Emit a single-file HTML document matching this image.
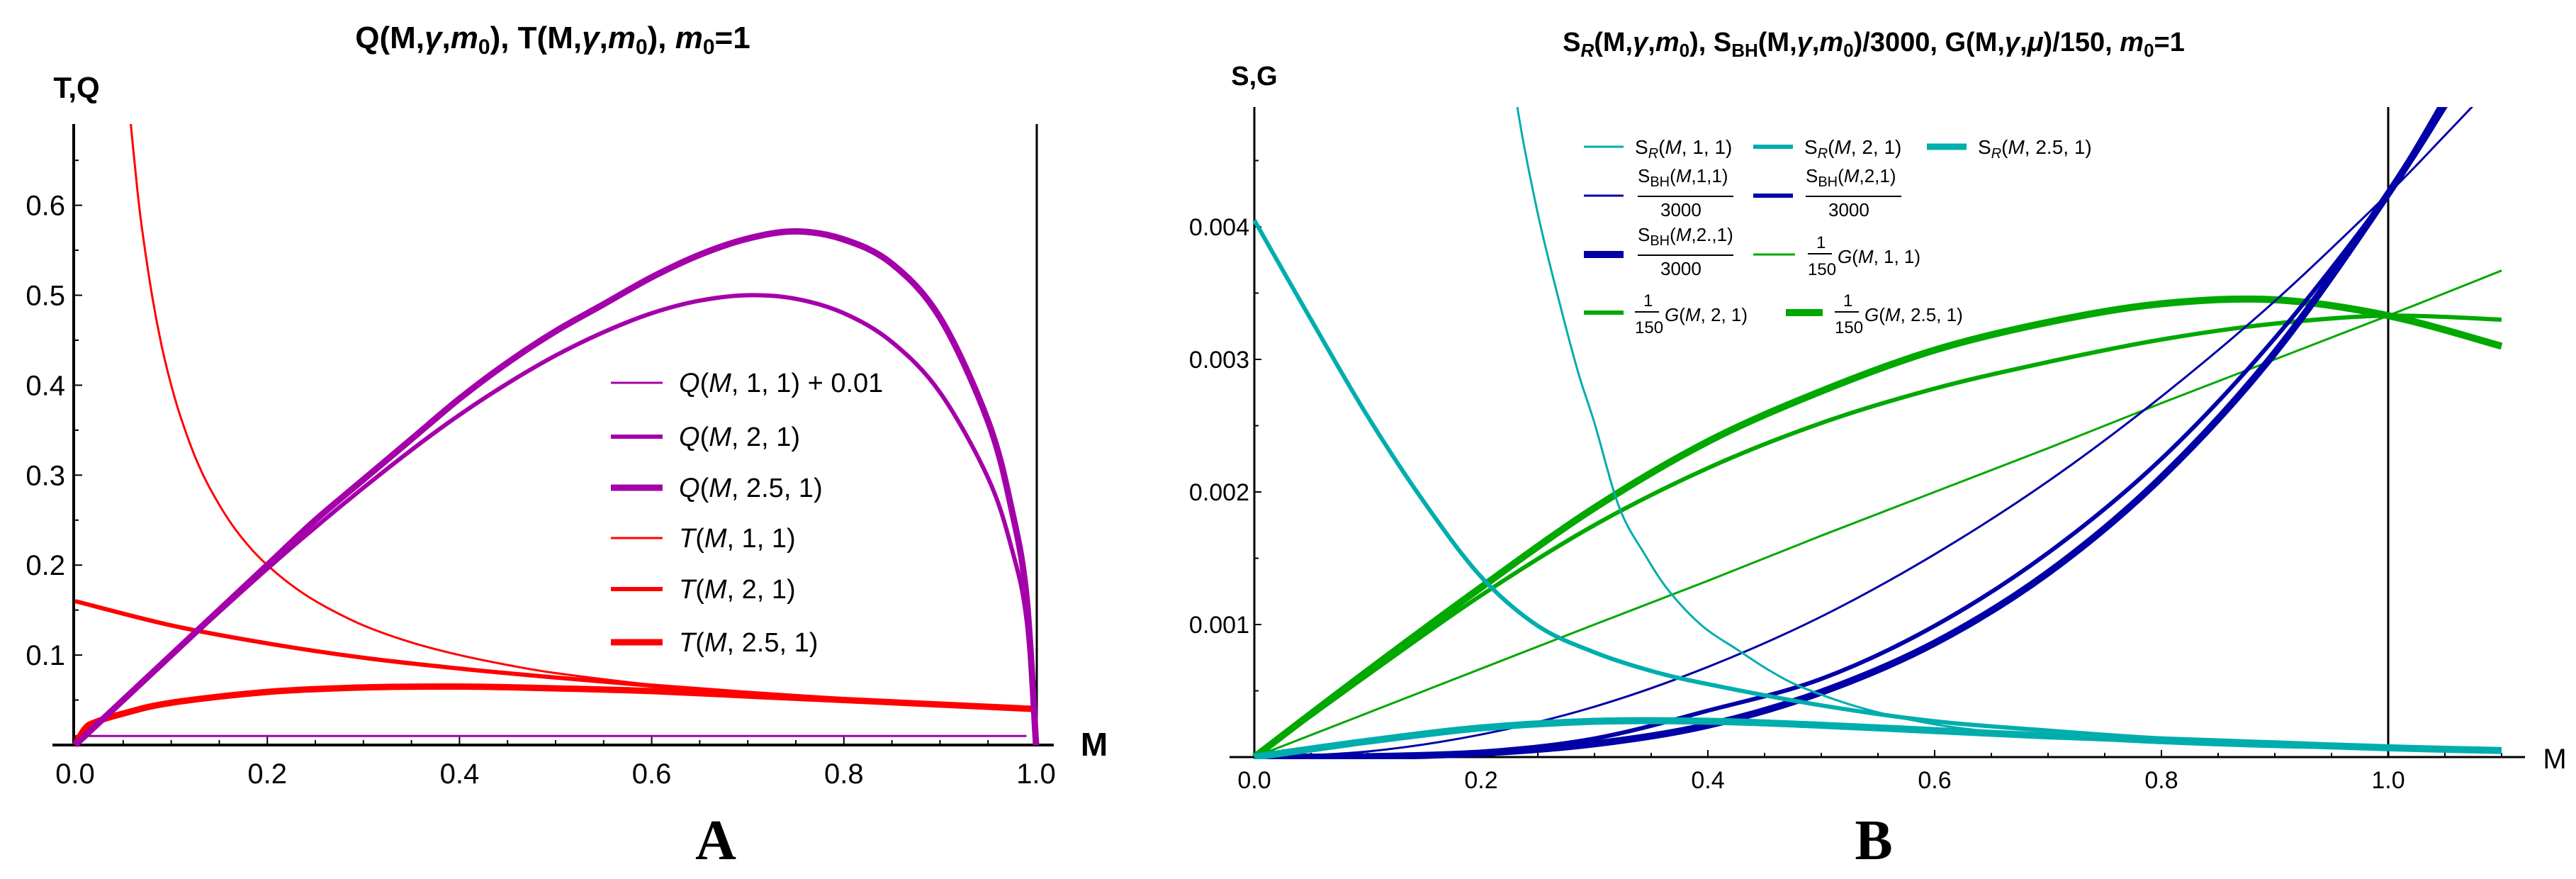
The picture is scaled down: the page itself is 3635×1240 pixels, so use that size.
<!DOCTYPE html>
<html><head><meta charset="utf-8"><style>
html,body{margin:0;padding:0;background:#fff;}
svg{display:block;}
</style></head><body>
<svg id="fig" width="3635" height="1240" viewBox="0 0 3635 1240" xmlns="http://www.w3.org/2000/svg" font-family="Liberation Sans Narrow, Liberation Sans, sans-serif">
<defs>
<clipPath id="clipA"><rect x="100" y="175" width="1370" height="880"/></clipPath>
<clipPath id="clipB"><rect x="1765" y="151" width="1770" height="920"/></clipPath>
</defs>
<g id="panelA">
<text x="780" y="68" font-size="44" font-weight="bold" text-anchor="middle" style="font-family:'Liberation Sans',sans-serif">Q(M,<tspan font-style="italic">γ</tspan>,<tspan font-style="italic">m</tspan><tspan font-size="30" dy="8">0</tspan><tspan dy="-8">), T(M,</tspan><tspan font-style="italic">γ</tspan>,<tspan font-style="italic">m</tspan><tspan font-size="30" dy="8">0</tspan><tspan dy="-8">), </tspan><tspan font-style="italic">m</tspan><tspan font-size="30" dy="8">0</tspan><tspan dy="-8">=1</tspan></text>
<text x="108" y="138" font-size="42" font-weight="bold" text-anchor="middle" style="font-family:'Liberation Sans',sans-serif">T,Q</text>
<text x="1544" y="1066" font-size="46" font-weight="bold" text-anchor="middle" style="font-family:'Liberation Sans',sans-serif">M</text>
<text x="1010" y="1212" font-size="80" font-weight="bold" text-anchor="middle" style="font-family:'Liberation Serif',serif">A</text>
</g>
<g id="panelB">
<text x="2644" y="72" font-size="38" font-weight="bold" text-anchor="middle" style="font-family:'Liberation Sans',sans-serif">S<tspan font-size="26" dy="8" font-style="italic">R</tspan><tspan dy="-8">(M,</tspan><tspan font-style="italic">γ</tspan>,<tspan font-style="italic">m</tspan><tspan font-size="26" dy="8">0</tspan><tspan dy="-8">), S</tspan><tspan font-size="26" dy="8">BH</tspan><tspan dy="-8">(M,</tspan><tspan font-style="italic">γ</tspan>,<tspan font-style="italic">m</tspan><tspan font-size="26" dy="8">0</tspan><tspan dy="-8">)/3000, G(M,</tspan><tspan font-style="italic">γ</tspan>,<tspan font-style="italic">μ</tspan>)/150,  <tspan font-style="italic">m</tspan><tspan font-size="26" dy="8">0</tspan><tspan dy="-8">=1</tspan></text>
<text x="1770" y="120" font-size="38" font-weight="bold" text-anchor="middle" style="font-family:'Liberation Sans',sans-serif">S,G</text>
<text x="3605" y="1084" font-size="40" text-anchor="middle">M</text>
<text x="2644" y="1212" font-size="80" font-weight="bold" text-anchor="middle" style="font-family:'Liberation Serif',serif">B</text>
</g>
</svg>
<script>
// ---------- Panel A data ----------
const aXTicks = [0, 0.2, 0.4, 0.6, 0.8, 1.0];
const aXTickLabels = ["0.0", "0.2", "0.4", "0.6", "0.8", "1.0"];
const aYTicks = [0.1, 0.2, 0.3, 0.4, 0.5, 0.6];
const aYTickLabels = ["0.1", "0.2", "0.3", "0.4", "0.5", "0.6"];
const mQ1 = [0, 0.99];
const q1Values = [0.01, 0.01];
const mQ2 = [0, 0.05, 0.1, 0.15, 0.2, 0.25, 0.3, 0.35, 0.4, 0.45, 0.5, 0.55, 0.6, 0.65, 0.7, 0.75, 0.8, 0.85, 0.9, 0.95, 0.975, 0.99, 1.0];
const q2Values = [0, 0.0499, 0.0995, 0.148, 0.196, 0.242, 0.286, 0.328, 0.367, 0.402, 0.433, 0.459, 0.48, 0.494, 0.5, 0.496, 0.48, 0.448, 0.392, 0.297, 0.217, 0.14, 0];
const q25Values = [0, 0.05, 0.1, 0.15, 0.2, 0.25, 0.295, 0.34, 0.385, 0.425, 0.46, 0.49, 0.52, 0.545, 0.563, 0.571, 0.562, 0.535, 0.475, 0.36, 0.26, 0.165, 0];
const mT1 = [0.05, 0.055, 0.06, 0.065, 0.07, 0.08, 0.09, 0.1, 0.11, 0.125, 0.14, 0.16, 0.18, 0.2, 0.23, 0.26, 0.3, 0.35, 0.4, 0.45, 0.5, 0.6, 0.7, 0.8, 0.9, 1.0];
const t1Values = [0.8, 0.727, 0.667, 0.615, 0.571, 0.5, 0.444, 0.4, 0.364, 0.32, 0.286, 0.25, 0.222, 0.2, 0.174, 0.154, 0.133, 0.114, 0.1, 0.089, 0.08, 0.067, 0.057, 0.05, 0.044, 0.04];
const mT2 = [0, 0.1, 0.2, 0.3, 0.4, 0.5, 0.6, 0.7, 0.8, 0.9, 1.0];
const t2Values = [0.16, 0.133, 0.113, 0.097, 0.085, 0.075, 0.066, 0.058, 0.051, 0.045, 0.04];
const mT25 = [0, 0.01, 0.02, 0.05, 0.1, 0.2, 0.3, 0.4, 0.5, 0.6, 0.7, 0.8, 0.9, 1.0];
const t25Values = [0, 0.018, 0.025, 0.035, 0.047, 0.059, 0.064, 0.065, 0.063, 0.06, 0.055, 0.05, 0.045, 0.04];

// ---------- Panel B data ----------
const bXTicks = [0, 0.2, 0.4, 0.6, 0.8, 1.0];
const bXTickLabels = ["0.0", "0.2", "0.4", "0.6", "0.8", "1.0"];
const bYTicks = [0.001, 0.002, 0.003, 0.004];
const bYTickLabels = ["0.001", "0.002", "0.003", "0.004"];
const mSR1 = [0.22, 0.232, 0.25, 0.27, 0.286, 0.3, 0.322, 0.345, 0.366, 0.395, 0.426, 0.455, 0.485, 0.54, 0.605, 0.68, 0.764, 0.88, 1.0, 1.1];
const sr1Values = [0.0057, 0.0049, 0.0041, 0.0034, 0.00289, 0.00252, 0.00188, 0.00152, 0.00125, 0.00099, 0.00081, 0.00065, 0.00052, 0.00036, 0.00024, 0.00017, 0.00012, 0.00008, 0.00006, 0.00005];
const mSR2 = [0, 0.05, 0.1, 0.15, 0.2, 0.25, 0.3, 0.35, 0.4, 0.5, 0.6, 0.7, 0.8, 0.9, 1.0, 1.1];
const sr2Values = [0.00405, 0.0033, 0.00257, 0.00192, 0.00136, 0.00099, 0.00079, 0.00065, 0.00055, 0.00039, 0.00027, 0.0002, 0.00014, 0.0001, 0.00007, 0.00005];
const mSR25 = [0, 0.1, 0.2, 0.3, 0.4, 0.5, 0.6, 0.7, 0.8, 0.9, 1.0, 1.1];
const sr25Values = [0, 0.00012, 0.00022, 0.00027, 0.00027, 0.00024, 0.0002, 0.00016, 0.00013, 0.0001, 0.00007, 0.00005];
const mBH = [0, 0.1, 0.2, 0.3, 0.4, 0.5, 0.6, 0.7, 0.8, 0.9, 1.0, 1.05, 1.1];
const bh1Values = [0, 0.0000425, 0.00017, 0.00038, 0.00068, 0.00106, 0.00153, 0.00208, 0.00272, 0.00344, 0.00425, 0.00469, 0.00514];
const bh2Values = [0, 0.000006, 0.00004, 0.00014, 0.00035, 0.00059, 0.00099, 0.00154, 0.00225, 0.00316, 0.00425, 0.0049, 0.0056];
const bh25Values = [0, 0.000003, 0.00003, 0.0001, 0.00024, 0.00049, 0.00086, 0.00139, 0.00211, 0.00305, 0.00425, 0.00495, 0.0057];
const mG = [0, 0.1, 0.2, 0.3, 0.4, 0.5, 0.6, 0.7, 0.8, 0.9, 1.0, 1.1];
const g1Values = [0, 0.000333, 0.000667, 0.001, 0.00133, 0.00167, 0.002, 0.00233, 0.00267, 0.003, 0.00333, 0.00367];
const g2Values = [0, 0.00062, 0.00122, 0.00175, 0.00218, 0.00252, 0.00278, 0.00298, 0.00315, 0.00327, 0.00333, 0.0033];
const g25Values = [0, 0.00065, 0.00128, 0.00188, 0.00238, 0.00276, 0.00307, 0.00328, 0.00342, 0.00345, 0.00333, 0.0031];

const NS = "http://www.w3.org/2000/svg";
const svg = document.getElementById("fig");
const gA = document.getElementById("panelA");
const gB = document.getElementById("panelB");

function xA(v){ return 106 + v * 1356; }
function yA(v){ return 1051 - v * 1269; }
function xB(v){ return 1770 + v * 1600; }
function yB(v){ return 1068 - v * 187000; }

function mk(tag, attrs, parent){
  const e = document.createElementNS(NS, tag);
  for (const k in attrs) e.setAttribute(k, attrs[k]);
  parent.appendChild(e);
  return e;
}
function smoothPath(xs, ys, fx, fy){
  const p = xs.map((x,i)=>[fx(x), fy(ys[i])]);
  let d = "M" + p[0][0].toFixed(1) + "," + p[0][1].toFixed(1);
  for (let i=0;i<p.length-1;i++){
    const p0 = p[i-1]||p[i], p1=p[i], p2=p[i+1], p3=p[i+2]||p[i+1];
    const c1x = p1[0]+(p2[0]-p0[0])/6, c1y = p1[1]+(p2[1]-p0[1])/6;
    const c2x = p2[0]-(p3[0]-p1[0])/6, c2y = p2[1]-(p3[1]-p1[1])/6;
    d += " C"+c1x.toFixed(1)+","+c1y.toFixed(1)+" "+c2x.toFixed(1)+","+c2y.toFixed(1)+" "+p2[0].toFixed(1)+","+p2[1].toFixed(1);
  }
  return d;
}
function series(parent, clip, xs, ys, fx, fy, color, w, name){
  const el = mk("path", {d: smoothPath(xs, ys, fx, fy), fill:"none", stroke:color, "stroke-width":w, "clip-path":"url(#"+clip+")", "stroke-linejoin":"round"}, parent);
  
  
}
function lineEl(parent, x1,y1,x2,y2,color,w,name){
  const el = mk("line",{x1:x1,y1:y1,x2:x2,y2:y2,stroke:color,"stroke-width":w},parent);
  
  
  return el;
}
function txt(parent, x, y, s, size, anchor, name){
  const el = mk("text",{x:x,y:y,"font-size":size,"text-anchor":anchor},parent);
  el.textContent = s;
  
  
  return el;
}

// ---------- Panel A axes ----------
lineEl(gA, 74, 1051, 1487, 1051, "#000", 4, 'x-axis-a');
lineEl(gA, 104, 175, 104, 1053, "#000", 4, 'y-axis-a');
lineEl(gA, 1463, 175, 1463, 1051, "#000", 3, 'm-equals-one-line-a');
for (let i=0;i<=20;i++){
  const v=i*0.05; const major = i%4===0;
  lineEl(gA, xA(v), 1051, xA(v), 1051-(major?12:7), "#000", 2, 'x-tick-a');
}
for (let i=1;i<=13;i++){
  const v=i*0.05; const major = i%2===0;
  lineEl(gA, 104, yA(v), 104+(major?12:7), yA(v), "#000", 2, 'y-tick-a');
}
aXTicks.forEach((v,i)=>{ txt(gA, xA(v), 1105, aXTickLabels[i], 40, "middle", 'x-tick-label-a'); });
aYTicks.forEach((v,i)=>{ txt(gA, 92, yA(v)+14, aYTickLabels[i], 40, "end", 'y-tick-label-a'); });

const PURPLE="#a400aa", RED="#ff0000";
series(gA,"clipA", mQ1, q1Values, xA, yA, PURPLE, 3, 'series-q-1');
series(gA,"clipA", mT1, t1Values, xA, yA, RED, 3, 'series-t-1');
series(gA,"clipA", mT2, t2Values, xA, yA, RED, 6, 'series-t-2');
series(gA,"clipA", mT25, t25Values, xA, yA, RED, 9, 'series-t-2-5');
series(gA,"clipA", mQ2, q2Values, xA, yA, PURPLE, 6, 'series-q-2');
series(gA,"clipA", mQ2, q25Values, xA, yA, PURPLE, 9, 'series-q-2-5');

// legend A
const legA = mk("g", {}, gA);


const legARows = [
  [540, PURPLE, 3, 'Q', '1', ' + 0.01'],
  [616, PURPLE, 6, 'Q', '2', ''],
  [688, PURPLE, 9, 'Q', '2.5', ''],
  [759, RED, 3, 'T', '1', ''],
  [831, RED, 6, 'T', '2', ''],
  [906, RED, 9, 'T', '2.5', '']
];
legARows.forEach(r=>{
  lineEl(legA, 862, r[0], 935, r[0], r[1], r[2], 'legend-entry-swatch');
  const t = mk("text", {x:958, y:r[0]+13, "font-size":38}, legA);
  t.innerHTML = '<tspan font-style="italic">'+r[3]+'</tspan>(<tspan font-style="italic">M</tspan>, '+r[4]+', 1)'+r[5];
  
  
});

// ---------- Panel B axes ----------
lineEl(gB, 1735, 1068, 3563, 1068, "#000", 3, 'x-axis-b');
lineEl(gB, 1770, 151, 1770, 1070, "#000", 3, 'y-axis-b');
lineEl(gB, 3370, 151, 3370, 1068, "#000", 3, 'm-equals-one-line-b');
for (let i=0;i<=22;i++){
  const v=i*0.05; const major=i%4===0;
  lineEl(gB, xB(v), 1068, xB(v), 1068-(major?10:6), "#000", 2, 'x-tick-b');
}
for (let i=1;i<=9;i++){
  const v=i*0.0005; const major=i%2===0;
  lineEl(gB, 1770, yB(v), 1770+(major?10:6), yB(v), "#000", 2, 'y-tick-b');
}
bXTicks.forEach((v,i)=>{ txt(gB, xB(v), 1112, bXTickLabels[i], 34, "middle", 'x-tick-label-b'); });
bYTicks.forEach((v,i)=>{ txt(gB, 1763, yB(v)+12, bYTickLabels[i], 34, "end", 'y-tick-label-b'); });

const TEAL="#00adad", BLUE="#0000a6", GREEN="#00a800";
series(gB,"clipB", mG, g1Values, xB, yB, GREEN, 3, 'series-g-1');
series(gB,"clipB", mG, g2Values, xB, yB, GREEN, 6, 'series-g-2');
series(gB,"clipB", mG, g25Values, xB, yB, GREEN, 10, 'series-g-2-5');
series(gB,"clipB", mBH, bh1Values, xB, yB, BLUE, 3, 'series-sbh-1');
series(gB,"clipB", mBH, bh2Values, xB, yB, BLUE, 6, 'series-sbh-2');
series(gB,"clipB", mBH, bh25Values, xB, yB, BLUE, 10, 'series-sbh-2-5');
series(gB,"clipB", mSR1, sr1Values, xB, yB, TEAL, 3, 'series-sr-1');
series(gB,"clipB", mSR2, sr2Values, xB, yB, TEAL, 6, 'series-sr-2');
series(gB,"clipB", mSR25, sr25Values, xB, yB, TEAL, 10, 'series-sr-2-5');

// legend B
const legB = mk("g", {}, gB);


function legText(x, y, html, size){
  const t = mk("text", {x:x, y:y, "font-size":size}, legB);
  t.innerHTML = html;
  
  
}
function fracBH(x, y, g){
  legText(x, y-18, 'S<tspan font-size="20" dy="6">BH</tspan><tspan dy="-6">(</tspan><tspan font-style="italic">M</tspan>,'+g+',1)', 26);
  lineEl(legB, x, y+2, x+135, y+2, "#000", 2, 'fraction-bar');
  legText(x+32, y+30, '3000', 26);
}
function fracG(x, y, g){
  legText(x+8, y-12, '1', 24);
  lineEl(legB, x-4, y-4, x+30, y-4, "#000", 2, 'fraction-bar');
  legText(x-4, y+26, '150', 24);
  legText(x+38, y+9, '<tspan font-style="italic">G</tspan>(<tspan font-style="italic">M</tspan>, '+g+', 1)', 26);
}
// row 1
[[2235,3,'1'],[2474,6,'2'],[2719,9,'2.5']].forEach((c,i)=>{
  lineEl(legB, c[0], 207, c[0]+56, 207, TEAL, c[1], 'legend-entry-swatch');
  legText(c[0]+72, 217, 'S<tspan font-size="20" dy="6" font-style="italic">R</tspan><tspan dy="-6">(</tspan><tspan font-style="italic">M</tspan>, '+c[2]+', 1)', 28);
});
// row 2
lineEl(legB, 2235, 276, 2291, 276, BLUE, 3, 'legend-entry-swatch');
fracBH(2311, 275, '1');
lineEl(legB, 2474, 276, 2530, 276, BLUE, 6, 'legend-entry-swatch');
fracBH(2548, 275, '2');
// row 3
lineEl(legB, 2235, 359, 2291, 359, BLUE, 10, 'legend-entry-swatch');
fracBH(2311, 358, '2.');
lineEl(legB, 2474, 359, 2533, 359, GREEN, 3, 'legend-entry-swatch');
fracG(2555, 362, '1');
// row 4
lineEl(legB, 2235, 441, 2291, 441, GREEN, 6, 'legend-entry-swatch');
fracG(2311, 444, '2');
lineEl(legB, 2520, 441, 2572, 441, GREEN, 10, 'legend-entry-swatch');
fracG(2593, 444, '2.5');
</script>
</body></html>
